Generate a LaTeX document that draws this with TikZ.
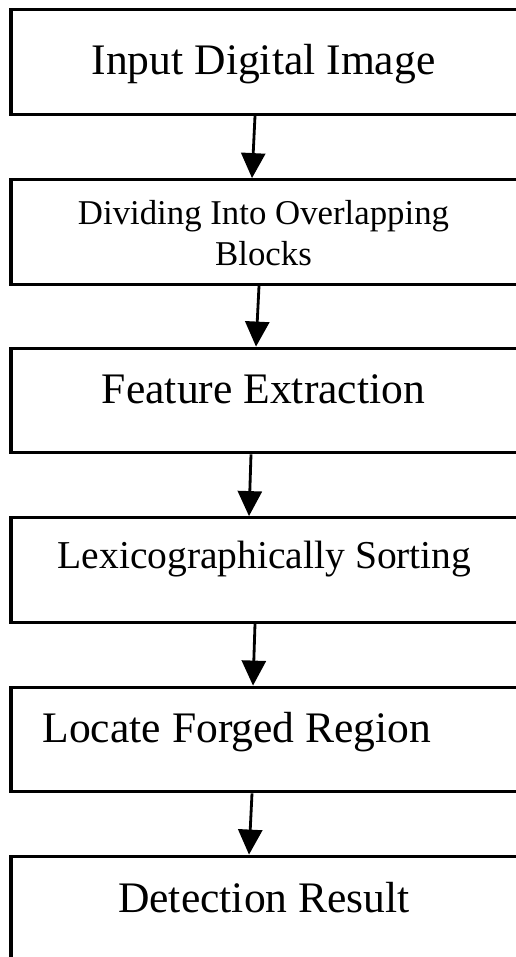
\documentclass[tikz,border=0pt]{standalone}
\usepackage{fontspec}
\setmainfont{Liberation Serif}
\usetikzlibrary{arrows.meta}

\begin{document}
\begin{tikzpicture}[x=0.02cm, y=-0.02cm,
    stagebox/.style={draw, line width=1.9pt, minimum width=10.28cm,
                     minimum height=2.09cm, inner sep=0pt},
    stagetext/.style={anchor=base, align=center, inner sep=0pt,
                      font=\fontsize{24.8pt}{30pt}\selectfont},
    arrow/.style={-{Triangle[length=0.5cm, width=0.48cm]}, line width=1.6pt},
  ]
  \clip (0,0) rectangle (516,957);

  \node[stagebox] (input) at (268,62) {};
  \node[stagebox] (divide) at (268,232) {};
  \node[stagebox] (feature) at (268,400.5) {};
  \node[stagebox] (sorting) at (268,570) {};
  \node[stagebox] (locate) at (268,739.5) {};
  \node[stagebox] (result) at (268,908.5) {};

  \node[stagetext] (inputtxt) at (263.5,74) {Input Digital Image};
  \node[stagetext, font=\fontsize{19.8pt}{22.8pt}\selectfont] (dividetxt) at (263.5,265)
    {Dividing Into Overlapping\\Blocks};
  \node[stagetext] (featuretxt) at (263.5,403) {Feature Extraction};
  \node[stagetext, font=\fontsize{22.5pt}{27pt}\selectfont] (sortingtxt) at (264.5,568)
    {Lexicographically Sorting};
  \node[stagetext] (locatetxt) at (237,742) {Locate Forged Region};
  \node[stagetext] (resulttxt) at (264,912) {Detection Result};

  \draw[arrow] ([xshift=-0.26cm]input.south) -- ([xshift=-0.32cm]divide.north);
  \draw[arrow] ([xshift=-0.18cm]divide.south) -- ([xshift=-0.24cm]feature.north);
  \draw[arrow] ([xshift=-0.34cm]feature.south) -- ([xshift=-0.38cm]sorting.north);
  \draw[arrow] ([xshift=-0.26cm]sorting.south) -- ([xshift=-0.3cm]locate.north);
  \draw[arrow] ([xshift=-0.32cm]locate.south) -- ([xshift=-0.38cm]result.north);
\end{tikzpicture}
\end{document}
